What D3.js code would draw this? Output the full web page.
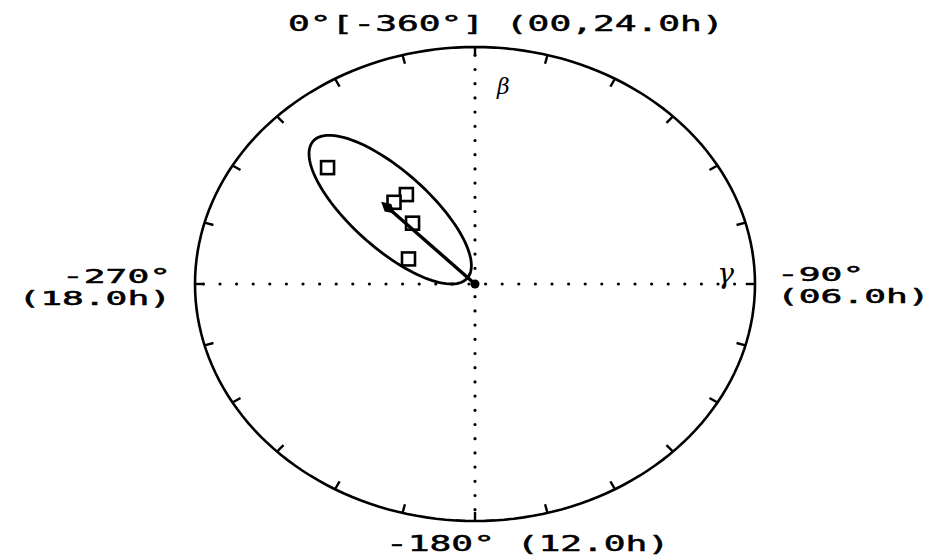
<!DOCTYPE html>
<html>
<head>
<meta charset="utf-8">
<script src="https://cdn.jsdelivr.net/npm/d3@7"></script>
<style>
  html, body { margin: 0; padding: 0; background: #fff; }
  svg { display: block; }
  .lbl { font-family: "DejaVu Sans Mono", monospace; fill: #000; stroke: #000; stroke-width: 0.5px; }
  .greek { font-family: "DejaVu Serif", serif; font-style: italic; fill: #000; }
</style>
</head>
<body>
<svg id="dial" width="939" height="557"></svg>
<script>
// Individual harmonic vectors (amplitude relative to dial radius, phase in degrees)
const vectorAmp   = [0.72, 0.45, 0.45, 0.34, 0.26];
const vectorPhase = [-313, -327, -320, -319, -294];

// Mean vector
const meanAmp   = [0.436];
const meanPhase = [-316];

// Confidence ellipse around the mean vector
const ellipseSemiMajor = [0.40];
const ellipseSemiMinor = [0.15];
const ellipseAxisPhase = [-318];

// Dial tick marks every 15 degrees
const tickPhases = d3.range(0, -360, -15);

// Cardinal labels (text lines)
const labelTop    = ["0°[-360°] (00,24.0h)"];
const labelRight  = ["-90°", "(06.0h)"];
const labelBottom = ["-180° (12.0h)"];
const labelLeft   = ["-270°", "(18.0h)"];

// Axis names
const axisNames = ["β", "γ"];

const svg = d3.select("#dial");
const cx = 475, cy = 284, rx = 280, ry = 237;
const x = d3.scaleLinear().domain([-1, 1]).range([cx - rx, cx + rx]);
const y = d3.scaleLinear().domain([-1, 1]).range([cy + ry, cy - ry]);

// phase -> unit direction (0° at top, negative phases run clockwise)
const rad = p => -p * Math.PI / 180;
const px = (a, p) => x(a * Math.sin(rad(p)));
const py = (a, p) => y(a * Math.cos(rad(p)));

const line = d3.line().x(d => d[0]).y(d => d[1]);

// outer dial
const ring = d3.range(0, 361, 2).map(p => [px(1, -p), py(1, -p)]);
svg.append("path").attr("d", line(ring) + "Z")
  .attr("fill", "none").attr("stroke", "#000").attr("stroke-width", 2.6);

// inward ticks
svg.append("g").selectAll("line").data(tickPhases).join("line")
  .attr("x1", p => px(1, p)).attr("y1", p => py(1, p))
  .attr("x2", p => px(0.967, p)).attr("y2", p => py(0.962, p))
  .attr("stroke", "#000").attr("stroke-width", 2.4);

// dotted axes
svg.append("line")
  .attr("x1", x(-0.97)).attr("x2", x(0.97)).attr("y1", y(0)).attr("y2", y(0))
  .attr("stroke", "#000").attr("stroke-width", 3.2).attr("stroke-linecap", "round")
  .attr("stroke-dasharray", "0 16.6");
svg.append("line")
  .attr("x1", x(0)).attr("x2", x(0)).attr("y1", y(0.965)).attr("y2", y(-0.965))
  .attr("stroke", "#000").attr("stroke-width", 3.2).attr("stroke-linecap", "round")
  .attr("stroke-dasharray", "0 14.2");

// confidence ellipse
const mcx = meanAmp[0] * Math.sin(rad(meanPhase[0]));
const mcy = meanAmp[0] * Math.cos(rad(meanPhase[0]));
const ua = rad(ellipseAxisPhase[0]);
const u = [Math.sin(ua), Math.cos(ua)];
const v = [Math.cos(ua), -Math.sin(ua)];
const ell = d3.range(0, 361, 3).map(t => {
  const s = t * Math.PI / 180;
  const a = ellipseSemiMajor[0] * Math.cos(s), b = ellipseSemiMinor[0] * Math.sin(s);
  return [x(mcx + a * u[0] + b * v[0]), y(mcy + a * u[1] + b * v[1])];
});
svg.append("path").attr("d", line(ell) + "Z")
  .attr("fill", "none").attr("stroke", "#000").attr("stroke-width", 2.8);

// individual vectors as squares
const sq = 13;
svg.append("g").selectAll("rect").data(vectorAmp.map((a, i) => [a, vectorPhase[i]])).join("rect")
  .attr("x", d => px(d[0], d[1]) - sq / 2).attr("y", d => py(d[0], d[1]) - sq / 2)
  .attr("width", sq).attr("height", sq)
  .attr("fill", "#fff").attr("stroke", "#000").attr("stroke-width", 2.6);

// mean vector arrow with diamond head
const ox = x(0), oy = y(0);
const mx = px(meanAmp[0], meanPhase[0]), my = py(meanAmp[0], meanPhase[0]);
svg.append("line").attr("x1", ox).attr("y1", oy).attr("x2", mx).attr("y2", my)
  .attr("stroke", "#000").attr("stroke-width", 3.4);
const ang = Math.atan2(my - oy, mx - ox) * 180 / Math.PI;
svg.append("path")
  .attr("d", "M-6,0L3,-5L12,0L3,5Z")
  .attr("transform", `translate(${mx},${my}) rotate(${ang})`)
  .attr("fill", "#000");
svg.append("circle").attr("cx", ox).attr("cy", oy).attr("r", 4.5).attr("fill", "#000");

// labels: monospace glyphs widened to the plotter character pitch
const pitch = 21.8;
function label(lines, xs, ys, anchor, fs) {
  const sx = pitch / (fs * 0.6021);
  lines.forEach((s, i) => {
    svg.append("text").attr("class", "lbl")
      .attr("font-size", fs)
      .attr("transform", `translate(${xs},0) scale(${sx},1)`)
      .attr("text-anchor", anchor)
      .attr("x", 0).attr("y", ys[i]).text(s);
  });
}
label(labelTop, 288, [31], "start", 22);
label(labelBottom, 386, [551], "start", 22);
label(labelLeft, 171, [283, 305], "end", 19);
label(labelRight, 777, [281, 303], "start", 19);

svg.append("text").attr("class", "greek").attr("font-size", 22)
  .attr("x", x(0) + 22).attr("y", y(0.8)).text(axisNames[0]);
svg.append("text").attr("class", "greek").attr("font-size", 28)
  .attr("x", x(0.865)).attr("y", y(0) - 1).text(axisNames[1]);
</script>
</body>
</html>
